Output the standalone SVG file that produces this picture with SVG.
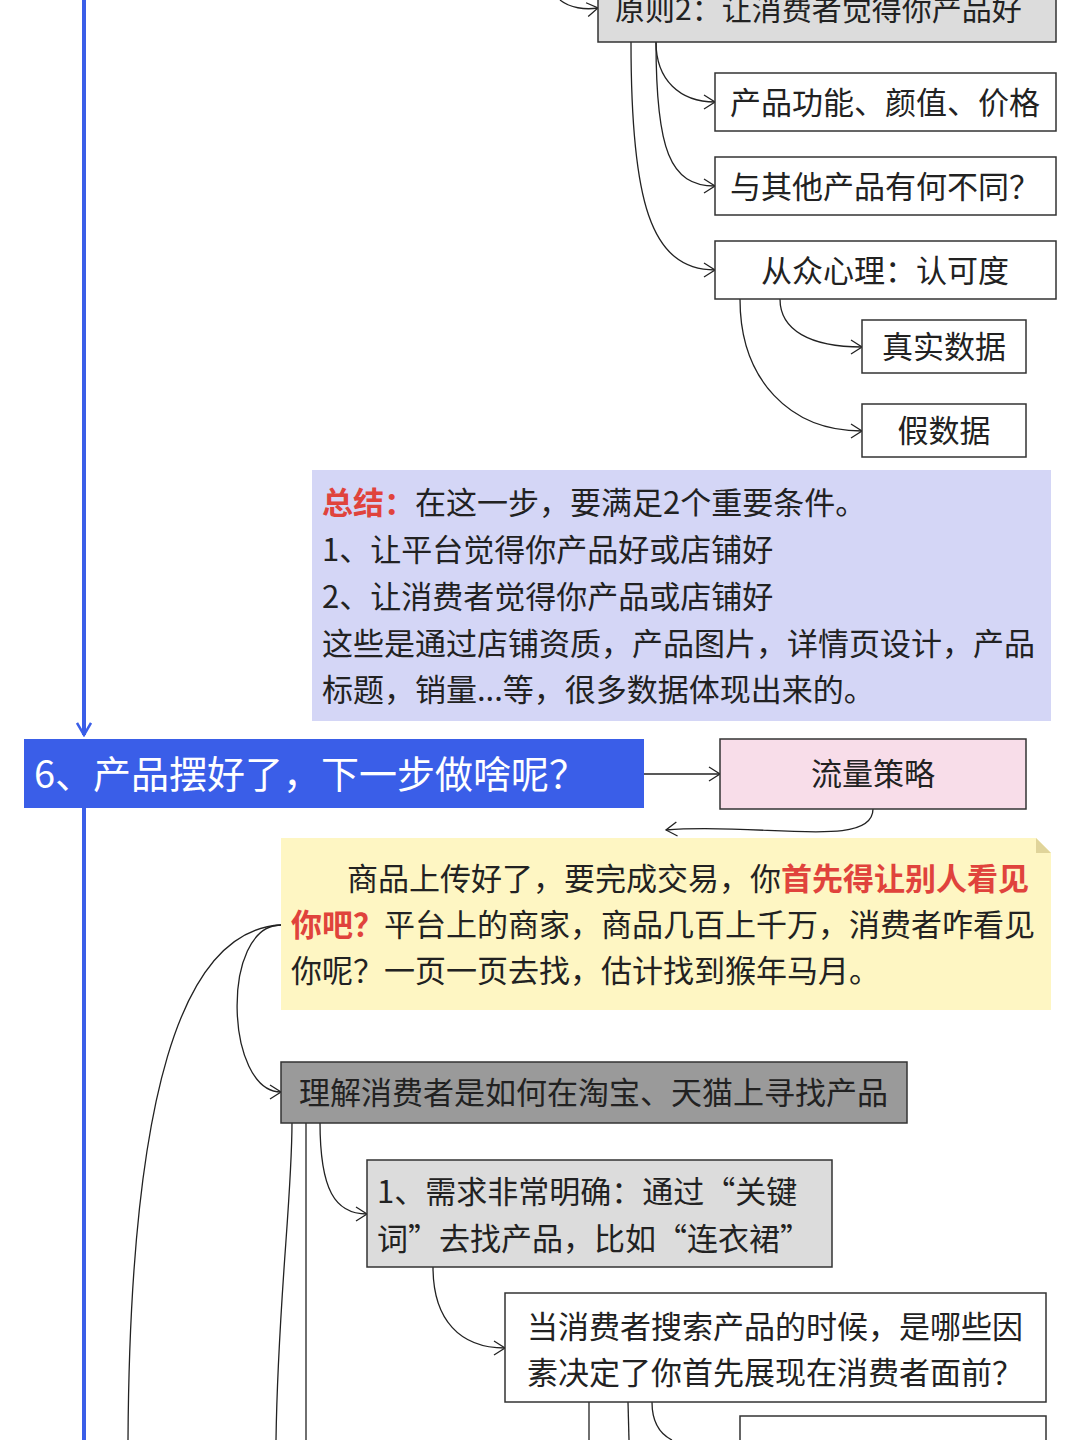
<svg xmlns="http://www.w3.org/2000/svg" width="1080" height="1440" viewBox="0 0 1080 1440">
<defs>
<marker id="ar" markerWidth="14" markerHeight="16" refX="12" refY="8" orient="auto" markerUnits="userSpaceOnUse"><path d="M1,1 L12,8 L1,15" fill="none" stroke="#222" stroke-width="1.3"/></marker>
<marker id="ab" markerWidth="16" markerHeight="16" refX="8" refY="14" orient="0" markerUnits="userSpaceOnUse"><path d="M1,2 L8,14 L15,2" fill="none" stroke="#3a5ee8" stroke-width="2.5"/></marker>
</defs>
<style>
text{font-family:"Noto Sans CJK SC","Liberation Sans",sans-serif;fill:#222}
.b{stroke:#333;stroke-width:1.5}
.c{fill:none;stroke:#222;stroke-width:1.3}
.t{font-size:31px}
.r{fill:#e0433c;font-weight:bold}
</style>
<rect width="1080" height="1440" fill="#fff"/>
<g id="connectors">
<line x1="84" y1="0" x2="84" y2="735" stroke="#3a5ee8" stroke-width="4" marker-end="url(#ab)"/>
<line x1="84" y1="808" x2="84" y2="1440" stroke="#3a5ee8" stroke-width="4"/>
<path class="c" d="M560,0 C570,8 585,10 598,8" marker-end="url(#ar)"/>
<path class="c" d="M656,42 C656,80 680,102 715,102" marker-end="url(#ar)"/>
<path class="c" d="M656,42 C656,150 670,186 715,186" marker-end="url(#ar)"/>
<path class="c" d="M631,42 C631,200 650,270 715,270" marker-end="url(#ar)"/>
<path class="c" d="M780,299 C780,330 810,347 862,347" marker-end="url(#ar)"/>
<path class="c" d="M740,299 C740,380 790,431 862,431" marker-end="url(#ar)"/>
<path class="c" d="M644,774 L720,774" marker-end="url(#ar)"/>
<path class="c" d="M873,809 C873,850 760,822 666,830" marker-end="url(#ar)"/>
<path class="c" d="M281,925 C220,925 225,1092 281,1092" marker-end="url(#ar)"/>
<path class="c" d="M281,925 C180,930 130,1100 128,1440"/>
<path class="c" d="M292,1122 C292,1200 278,1300 276,1440"/>
<path class="c" d="M306,1122 L306,1440"/>
<path class="c" d="M320,1122 C320,1190 335,1214 367,1214" marker-end="url(#ar)"/>
<path class="c" d="M433,1267 C433,1320 460,1348 505,1348" marker-end="url(#ar)"/>
<path class="c" d="M589,1402 L589,1440"/>
<path class="c" d="M628,1402 L629,1440"/>
<path class="c" d="M652,1402 C652,1425 662,1435 672,1440"/>
</g>
<g id="n-p2"><rect class="b" x="598" y="-10" width="458" height="52" fill="#dcdcdc"/><text x="615" y="20" font-size="30">原则2：让消费者觉得你产品好</text></g>
<g id="n-a"><rect class="b" x="715" y="73" width="341" height="58" fill="#fff"/><text class="t" x="730" y="114">产品功能、颜值、价格</text></g>
<g id="n-b"><rect class="b" x="715" y="157" width="341" height="58" fill="#fff"/><text class="t" x="730" y="198">与其他产品有何不同？</text></g>
<g id="n-c"><rect class="b" x="715" y="241" width="341" height="58" fill="#fff"/><text class="t" x="885" y="282" text-anchor="middle">从众心理：认可度</text></g>
<g id="n-d"><rect class="b" x="862" y="320" width="164" height="53" fill="#fff"/><text class="t" x="944" y="358" text-anchor="middle">真实数据</text></g>
<g id="n-e"><rect class="b" x="862" y="404" width="164" height="53" fill="#fff"/><text class="t" x="944" y="442" text-anchor="middle">假数据</text></g>
<g id="n-sum"><rect x="312" y="470" width="739" height="251" fill="#d4d6f6"/>
<text class="t" x="322" y="514"><tspan class="r">总结：</tspan>在这一步，要满足2个重要条件。</text>
<text class="t" x="322" y="561">1、让平台觉得你产品好或店铺好</text>
<text class="t" x="322" y="608">2、让消费者觉得你产品或店铺好</text>
<text class="t" x="322" y="655">这些是通过店铺资质，产品图片，详情页设计，产品</text>
<text class="t" x="322" y="701">标题，销量...等，很多数据体现出来的。</text></g>
<g id="n-6"><rect x="24" y="739" width="620" height="69" fill="#3a5ee8"/><text x="34" y="788" font-size="38" style="fill:#fff">6、产品摆好了，下一步做啥呢？</text></g>
<g id="n-flow"><rect class="b" x="720" y="739" width="306" height="70" fill="#f8dde9"/><text class="t" x="873" y="785" text-anchor="middle">流量策略</text></g>
<g id="n-note"><path d="M281,838 H1036 L1051,853 V1010 H281 Z" fill="#fef6c3"/><path d="M1036,838 V853 H1051 Z" fill="#e0d49a"/>
<text class="t" x="347" y="890">商品上传好了，要完成交易，你<tspan class="r">首先得让别人看见</tspan></text>
<text class="t" x="291" y="936"><tspan class="r">你吧？</tspan>平台上的商家，商品几百上千万，消费者咋看见</text>
<text class="t" x="291" y="982">你呢？一页一页去找，估计找到猴年马月。</text></g>
<g id="n-und"><rect class="b" x="281" y="1062" width="626" height="61" fill="#9a9a9a"/><text class="t" x="299" y="1104">理解消费者是如何在淘宝、天猫上寻找产品</text></g>
<g id="n-1"><rect class="b" x="367" y="1160" width="465" height="107" fill="#dcdcdc"/><text class="t" x="377" y="1203">1、需求非常明确：通过“关键</text><text class="t" x="377" y="1250">词”去找产品，比如“连衣裙”</text></g>
<g id="n-q"><rect class="b" x="505" y="1293" width="541" height="109" fill="#fff"/><text class="t" x="527" y="1338">当消费者搜索产品的时候，是哪些因</text><text class="t" x="527" y="1384">素决定了你首先展现在消费者面前？</text></g>
<g id="n-next"><rect class="b" x="740" y="1416" width="306" height="40" fill="#fff"/></g>
</svg>
